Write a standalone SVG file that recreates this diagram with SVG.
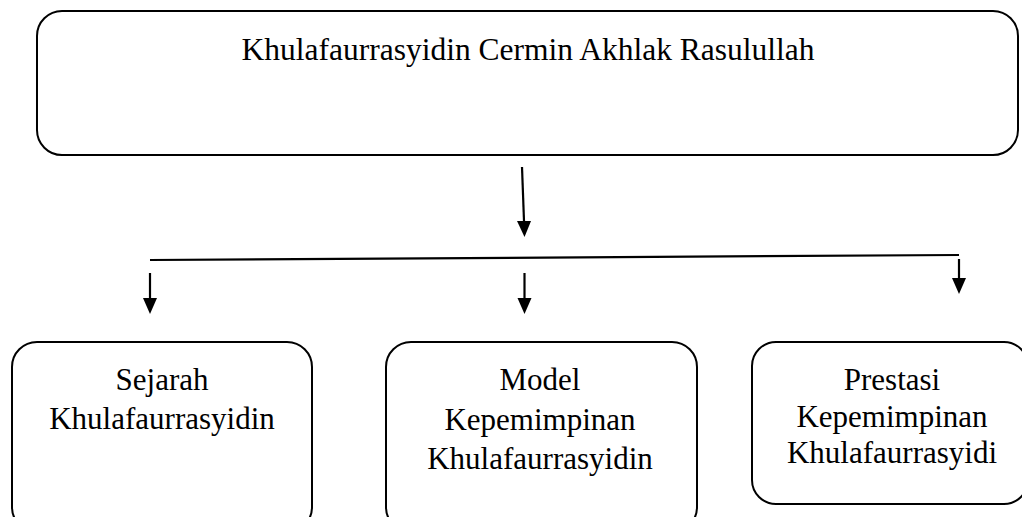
<svg xmlns="http://www.w3.org/2000/svg" width="1022" height="517" viewBox="0 0 1022 517">
  <style>
    .box { fill: #ffffff; stroke: #000000; stroke-width: 2; }
    .lbl { font-family: "Liberation Serif", "Times New Roman", serif; font-size: 31px; fill: #000000; text-anchor: middle; }
    .conn { stroke: #000000; stroke-width: 2.2; fill: none; }
  </style>
  <defs>
    <marker id="arrow" markerUnits="userSpaceOnUse" markerWidth="14" markerHeight="16" refX="7" refY="16" orient="auto-start-reverse" viewBox="0 0 14 16">
      <path d="M0,0 L14,0 L7,16 Z" fill="#000000" transform="rotate(0)"/>
    </marker>
  </defs>
  <rect width="1022" height="517" fill="#ffffff"/>

  <g id="node-main">
    <rect class="box" x="37" y="11" width="981" height="144" rx="25" ry="25"/>
    <text class="lbl" x="528" y="60" style="font-size:31.5px">Khulafaurrasyidin Cermin Akhlak Rasulullah</text>
  </g>

  <g id="node-sejarah">
    <rect class="box" x="12" y="342" width="300" height="190" rx="25" ry="25"/>
    <text class="lbl" x="162" y="390">Sejarah</text>
    <text class="lbl" x="162" y="429">Khulafaurrasyidin</text>
  </g>

  <g id="node-model">
    <rect class="box" x="386" y="342" width="311" height="190" rx="25" ry="25"/>
    <text class="lbl" x="540" y="390">Model</text>
    <text class="lbl" x="540" y="430">Kepemimpinan</text>
    <text class="lbl" x="540" y="469">Khulafaurrasyidin</text>
  </g>

  <g id="node-prestasi">
    <rect class="box" x="752" y="342" width="276" height="162" rx="24" ry="24"/>
    <text class="lbl" x="892" y="390">Prestasi</text>
    <text class="lbl" x="892" y="427">Kepemimpinan</text>
    <text class="lbl" x="892" y="463">Khulafaurrasyidi</text>
  </g>

  <g id="connectors">
    <g transform="rotate(0)">
      <path d="M522,167 L524,221" class="conn"/>
      <path d="M517,221 L531,221 L524.5,237 Z" fill="#000000"/>
    </g>
    <path d="M150,260 L959,255" class="conn"/>
    <path d="M150,273 L150,298" class="conn"/>
    <path d="M143,298 L157,298 L150,314 Z" fill="#000000"/>
    <path d="M524.5,273 L524.5,298" class="conn"/>
    <path d="M517.5,298 L531.5,298 L524.5,314 Z" fill="#000000"/>
    <path d="M959,259 L959,278" class="conn"/>
    <path d="M952,278 L966,278 L959,294 Z" fill="#000000"/>
  </g>
</svg>
